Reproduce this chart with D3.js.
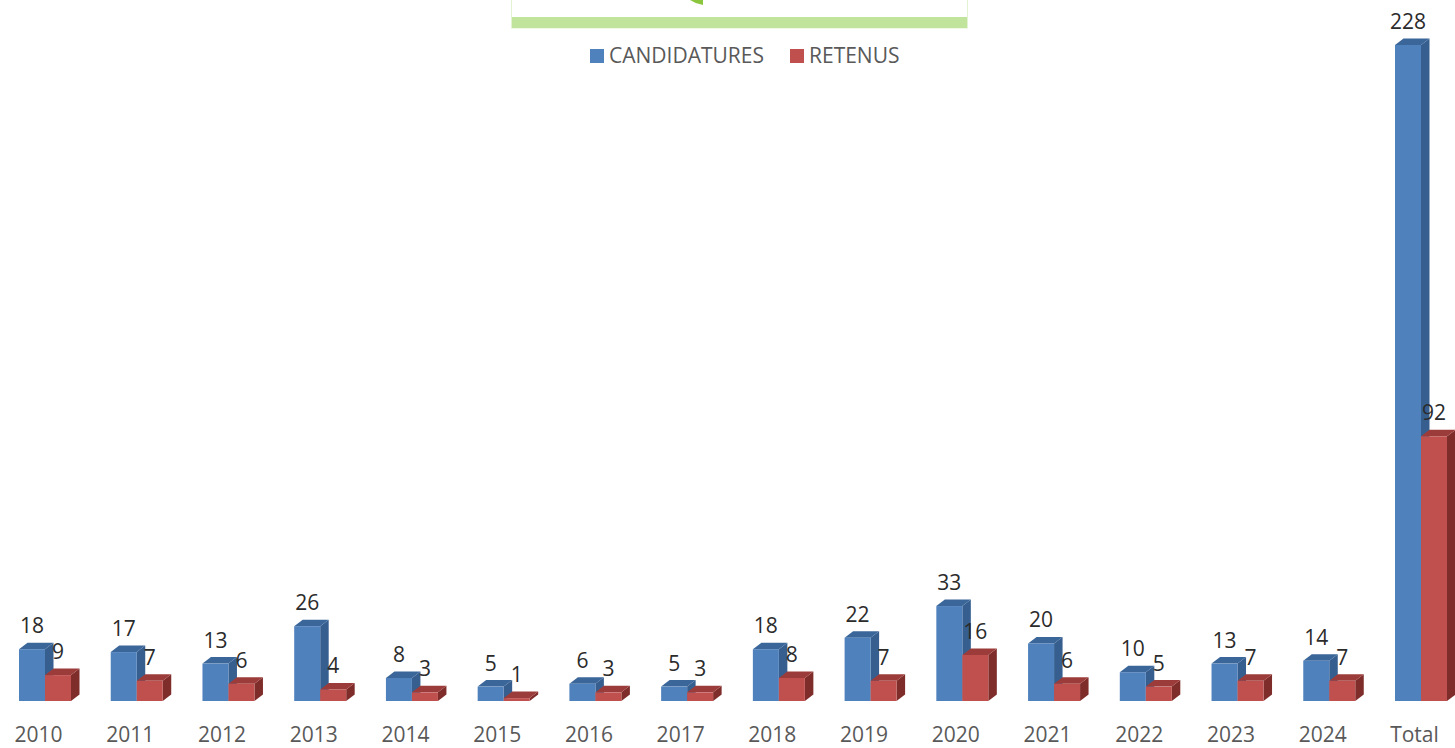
<!DOCTYPE html>
<html>
<head>
<meta charset="utf-8">
<script src="https://cdn.jsdelivr.net/npm/d3@7"></script>
<style>
  html, body { margin: 0; padding: 0; background: #fff; }
  svg { display: block; }
</style>
</head>
<body>
<svg id="chart" width="1455" height="748"></svg>
<script>
const categories = ["2010","2011","2012","2013","2014","2015","2016","2017","2018","2019","2020","2021","2022","2023","2024","Total"];
const candidatures = [18,17,13,26,8,5,6,5,18,22,33,20,10,13,14,228];
const retenus = [9,7,6,4,3,1,3,3,8,7,16,6,5,7,7,92];
const seriesNames = ["CANDIDATURES","RETENUS"];

const W = 1455, H = 748;
const svg = d3.select("#chart");
const FONT = "'Open Sans', 'Liberation Sans', sans-serif";

const x = d3.scalePoint().domain(categories).range([45, 1421]);
const y = d3.scaleLinear().domain([0, 228]).range([701, 45]);
const barW = 26, dx = 8.5, dy = 6.5;

const styles = [
  { front: "#4f81bd", top: "#3b6699", side: "#365f90" },
  { front: "#c0504d", top: "#9c3c3a", side: "#7f2d2b" }
];

// top frame fragment
const frame = svg.append("g");
frame.append("rect").attr("x", 511.5).attr("y", -2).attr("width", 456).attr("height", 30)
  .attr("fill", "#fff").attr("stroke", "#e2f2d2").attr("stroke-width", 1);
frame.append("rect").attr("x", 512).attr("y", 17).attr("width", 455).attr("height", 11)
  .attr("fill", "#c1e49c");
frame.append("path").attr("d", "M690,0 L703,0 L703,5 Q696,4 690,0 Z").attr("fill", "#8cc63f");

// bars
const g = svg.append("g");
const data = categories.map((c, i) => ({ c, vals: [candidatures[i], retenus[i]] }));

function drawBar(x0, v, st) {
  const yt = y(v), yb = y(0);
  const grp = g.append("g");
  grp.append("path").attr("d",
    `M${x0 + barW},${yb} L${x0 + barW + dx},${yb - dy} L${x0 + barW + dx},${yt - dy} L${x0 + barW},${yt} Z`)
    .attr("fill", st.side);
  grp.append("path").attr("d",
    `M${x0},${yt} L${x0 + dx},${yt - dy} L${x0 + barW + dx},${yt - dy} L${x0 + barW},${yt} Z`)
    .attr("fill", st.top);
  grp.append("rect").attr("x", x0).attr("y", yt).attr("width", barW).attr("height", yb - yt)
    .attr("fill", st.front);
}

data.forEach(d => {
  const cx = x(d.c);
  drawBar(cx - barW, d.vals[0], styles[0]);
  drawBar(cx, d.vals[1], styles[1]);
});

// value labels
const labels = svg.append("g").attr("font-family", FONT).attr("font-size", 21)
  .attr("fill", "#2b2b2b").attr("text-anchor", "middle");
data.forEach(d => {
  const cx = x(d.c);
  d.vals.forEach((v, k) => {
    const bx = k === 0 ? cx - barW / 2 : cx + barW / 2;
    labels.append("text").attr("x", bx).attr("y", y(v) - 16).text(v);
  });
});

// x axis
const axis = d3.axisBottom(x).tickSize(0).tickPadding(0);
const ax = svg.append("g").attr("transform", `translate(-7, 742)`).call(axis);
ax.select(".domain").remove();
ax.selectAll("text").attr("font-family", FONT).attr("font-size", 21).attr("fill", "#595959")
  .attr("dy", "0");

// legend
const legend = svg.append("g").attr("font-family", FONT).attr("font-size", 21).attr("fill", "#595959");
const legX = [590, 790];
seriesNames.forEach((n, i) => {
  legend.append("rect").attr("x", legX[i]).attr("y", 49).attr("width", 14).attr("height", 14)
    .attr("fill", styles[i].front);
  legend.append("text").attr("x", legX[i] + 19).attr("y", 63).text(n);
});
</script>
</body>
</html>
